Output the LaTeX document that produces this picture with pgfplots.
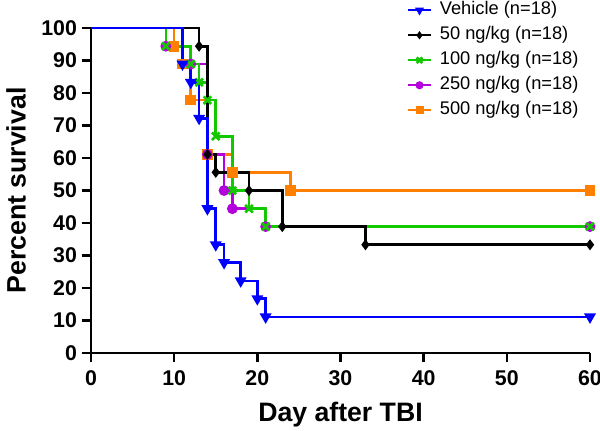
\documentclass[border=0pt]{standalone}
\usepackage{pgfplots}
\pgfplotsset{compat=1.18}
\usepackage{fontspec}
\setmainfont{Liberation Sans}
\definecolor{cveh}{RGB}{0,0,255}
\definecolor{cfifty}{RGB}{0,0,0}
\definecolor{chund}{RGB}{20,200,0}
\definecolor{cpurp}{RGB}{180,0,220}
\definecolor{coran}{RGB}{255,128,0}
\begin{document}
\begin{tikzpicture}
\begin{axis}[
  name=main,
  scale only axis,
  width=374.25pt, height=243.75pt,
  xmin=0, xmax=60, ymin=0, ymax=100,
  axis lines=left,
  axis line style={line width=2pt, -},
  xtick={0,10,...,60}, ytick={0,10,...,100},
  tick align=outside,
  major tick length=7pt,
  tick style={line width=2pt, black},
  /pgf/number format/assume math mode=true,
  ticklabel style={font=\bfseries\fontsize{16}{16}\selectfont},
  xticklabel style={yshift=-3pt},
  xlabel={\bfseries Day after TBI},
  ylabel={\bfseries Percent survival},
  label style={font=\bfseries\fontsize{20}{20}\selectfont},
  xlabel style={at={(axis description cs:0.5,-0.212)}, anchor=base},
  ylabel style={at={(axis description cs:-0.150,0.5)}, anchor=center},
  clip=false,
  reverse legend,
  legend cell align=left,
  legend image code/.code={\draw[sharp plot, mark indices={2}, line width=1.5pt, every mark/.append style={scale=0.75}] plot coordinates {(0cm,0cm) (0.3cm,0cm) (0.6cm,0cm)};},
  legend style={draw=none, fill=none, inner sep=0pt,
    at={(rel axis cs:0.633,1)}, anchor=north west, yshift=20.25pt,
    font=\fontsize{13.7}{16}\selectfont,
    nodes={inner sep=0pt, text height=10pt, text depth=3.5pt},
    row sep=5.25pt,
    /tikz/every odd column/.append style={column sep=6pt}},
  every axis plot/.append style={line width=2pt, const plot},
  mark indices={2,...,30},
]
% 500 ng/kg
\addplot[coran, mark=square*, mark size=3pt] coordinates {
(0,100)(10,94.4)(11,88.9)(12,77.8)(14,61.1)(17,55.6)(24,50)(60,50)};
% 250 ng/kg
\addplot[cpurp, mark=*, mark size=3pt] coordinates {
(0,100)(9,94.4)(12,88.9)(14,61.1)(16,50)(17,44.4)(21,38.9)(60,38.9)};
% 100 ng/kg
\addplot[chund, mark=x, mark size=4pt, mark options={line width=2pt}] coordinates {
(0,100)(9,94.4)(12,88.9)(13,83.3)(14,77.8)(15,66.7)(17,50)(19,44.4)(21,38.9)(60,38.9)};
% 50 ng/kg
\addplot[cfifty, mark=diamond*, mark size=2.5pt] coordinates {
(0,100)(13,94.4)(14,61.1)(15,55.6)(19,50)(23,38.9)(33,33.3)(60,33.3)};
% Vehicle
\addplot[cveh, mark=triangle*, mark size=3.2pt, mark options={rotate=180}] coordinates {
(0,100)(11,88.9)(12,83.3)(13,72.2)(14,44.4)(15,33.3)(16,27.8)(18,22.2)(20,16.7)(21,11.1)(60,11.1)};
\legend{500 ng/kg (n=18),250 ng/kg (n=18),100 ng/kg (n=18),50 ng/kg (n=18),Vehicle (n=18)}
\end{axis}
\pgfresetboundingbox
\path[use as bounding box] ([xshift=-68.25pt,yshift=-57.75pt]main.south west) rectangle ([xshift=7.5pt,yshift=21pt]main.north east);
\end{tikzpicture}
\end{document}
